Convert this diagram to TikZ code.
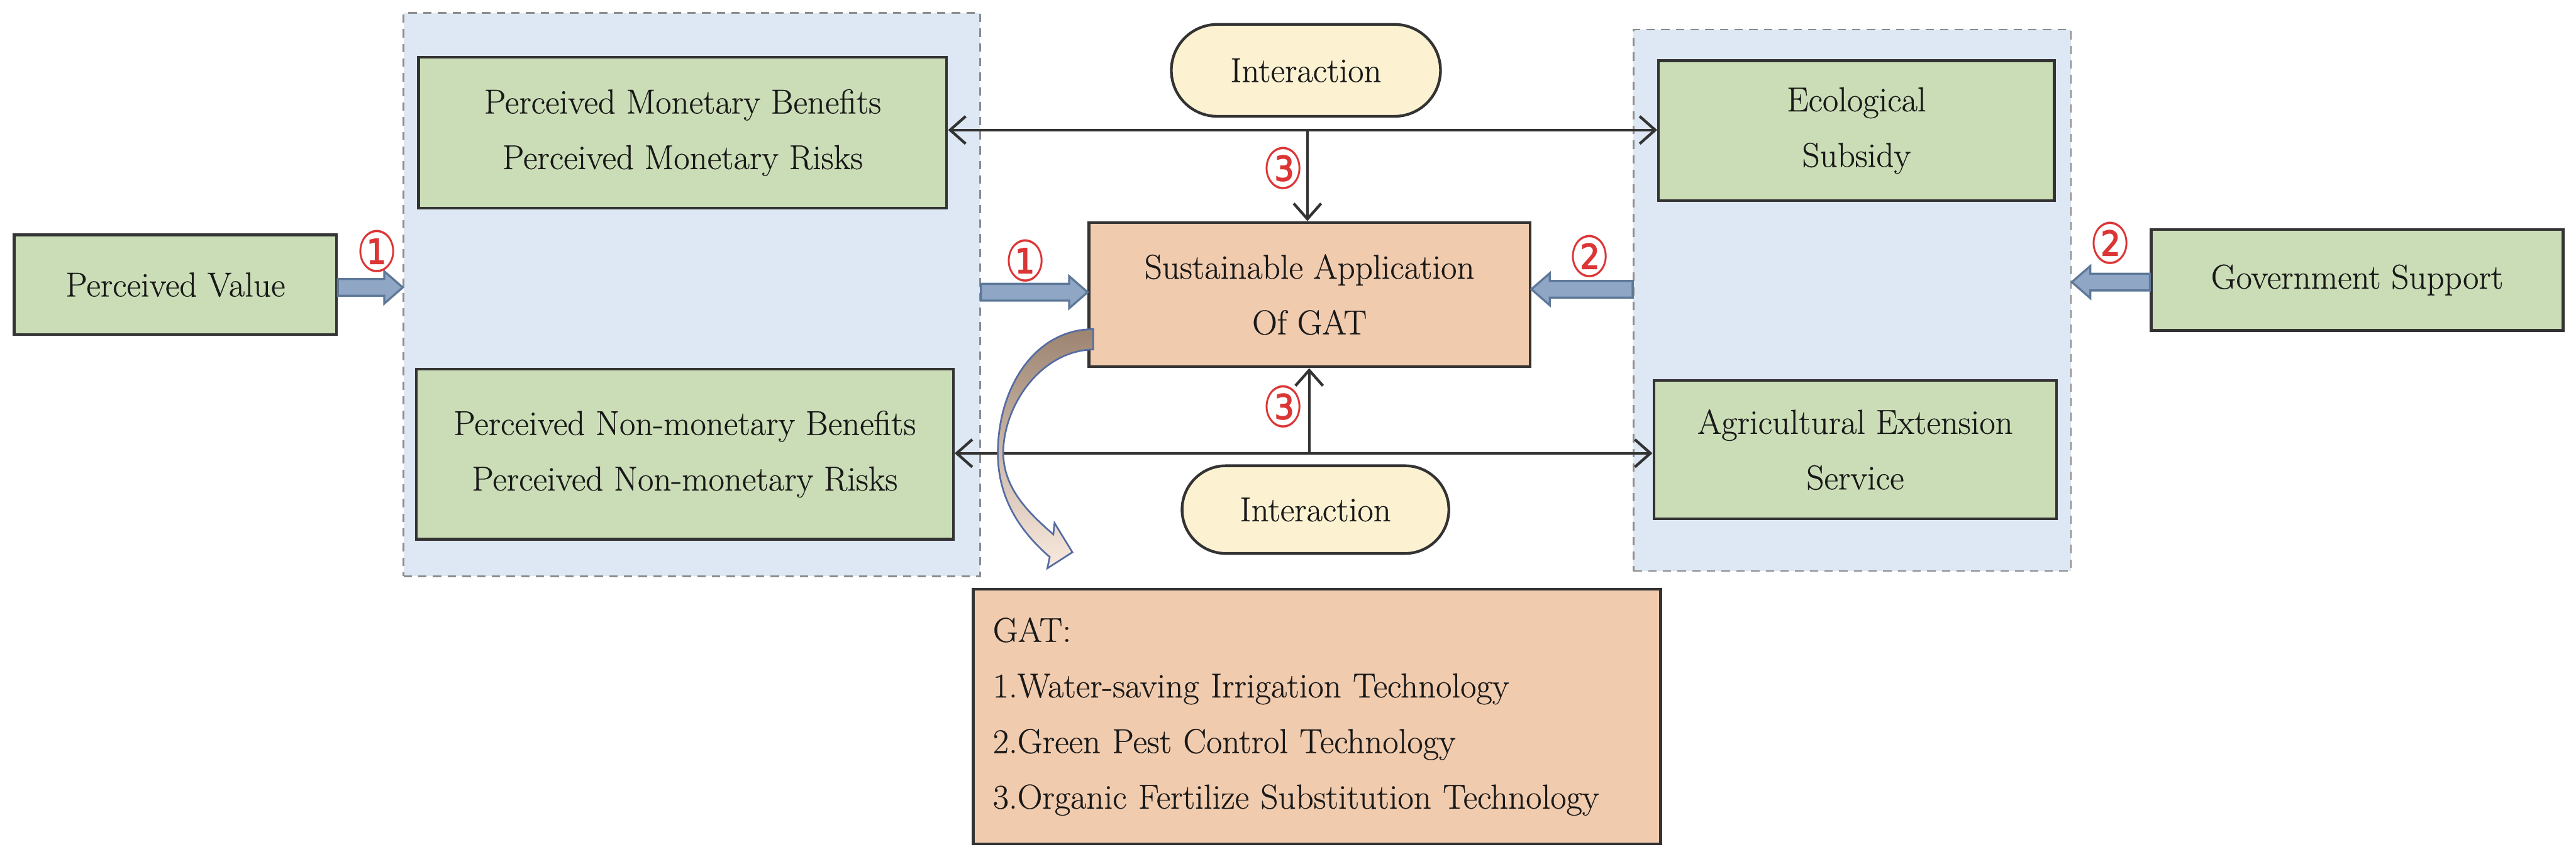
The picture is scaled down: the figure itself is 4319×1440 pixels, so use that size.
\documentclass[tikz,border=0pt]{standalone}
\usepackage{fontspec}
\setmainfont{Latin Modern Roman}[FakeBold=0.45]
\newfontfamily\djv{DejaVu Sans}
\usetikzlibrary{calc,arrows.meta,shapes.misc}
\definecolor{gfill}{HTML}{CBDDB6}
\definecolor{cfill}{HTML}{DEE8F4}
\definecolor{pfill}{HTML}{F1CBAE}
\definecolor{yfill}{HTML}{FCF2D2}
\definecolor{bafill}{HTML}{8FA6C4}
\definecolor{badraw}{HTML}{5E7899}
\definecolor{numred}{HTML}{DC3535}
\definecolor{edge}{HTML}{333333}
\newcommand{\blockarr}[2]{%
  \path (#1) coordinate (ba-s) (#2) coordinate (ba-e);
  \path ($(ba-e)!0.31cm!(ba-s)$) coordinate (ba-n);
  \draw[blockarrow] ($(ba-s)!0.14cm!90:(ba-e)$) -- ($(ba-n)!0.14cm!-90:(ba-s)$)
    -- ($(ba-n)!0.27cm!-90:(ba-s)$) -- (ba-e) -- ($(ba-n)!0.27cm!90:(ba-s)$)
    -- ($(ba-n)!0.14cm!90:(ba-s)$) -- ($(ba-s)!0.14cm!-90:(ba-e)$) -- cycle;}
\newcommand{\cn}[1]{\scalebox{0.82}[1]{#1}}
\begin{document}
\begin{tikzpicture}[x=0.01cm,y=-0.01cm,
  txt/.style={font=\fontsize{16.5}{26.5}\selectfont, align=center, text=black!90},
  gbox/.style={txt, draw=edge, line width=1.3pt, fill=gfill, inner sep=0pt},
  pbox/.style={txt, draw=edge, line width=1.3pt, fill=pfill, inner sep=0pt},
  ibox/.style={txt, rounded rectangle, draw=edge, line width=1.3pt, fill=yfill, inner sep=0pt},
  container/.style={draw=gray!90, dashed, line width=0.8pt, dash pattern=on 4pt off 3pt, fill=cfill, inner sep=0pt},
  blockarrow/.style={fill=bafill, draw=badraw, line width=1pt, line join=miter},
  thin/.style={draw=edge, line width=1.3pt, -{Straight Barb[length=0.26cm,width=0.46cm]}},
  both/.style={draw=edge, line width=1.3pt, {Straight Barb[length=0.26cm,width=0.46cm]}-{Straight Barb[length=0.26cm,width=0.46cm]}},
  cnum/.style={font=\djv\fontsize{27}{27}\selectfont, text=numred, inner sep=0pt}]
\useasboundingbox (0,0) rectangle (4319,1440);
\fill[white] (0,0) rectangle (4319,1440);

% containers
\node[container, minimum width=9.66cm, minimum height=9.44cm] (LC) at (1160,494) {};
\node[container, minimum width=7.33cm, minimum height=9.07cm] (RC) at (3105.5,503.5) {};

% boxes
\node[gbox, minimum width=5.40cm, minimum height=1.67cm] (PV) at (294,477.5) {Perceived Value};
\node[gbox, minimum width=8.85cm, minimum height=2.53cm] (PMB) at (1144.5,222.5) {Perceived Monetary Benefits\\Perceived Monetary Risks};
\node[gbox, minimum width=9.00cm, minimum height=2.85cm] (PNB) at (1148,761.5) {Perceived Non-monetary Benefits\\Perceived Non-monetary Risks};
\node[gbox, minimum width=6.63cm, minimum height=2.34cm] (ECO) at (3112.5,219) {Ecological\\Subsidy};
\node[gbox, minimum width=6.75cm, minimum height=2.32cm] (AGR) at (3110.5,754) {Agricultural Extension\\Service};
\node[gbox, minimum width=6.90cm, minimum height=1.69cm] (GOV) at (3952,469.5) {Government Support};
\node[pbox, minimum width=7.39cm, minimum height=2.42cm] (SA) at (2195.5,494) {Sustainable Application\\Of GAT};
\node[pbox, minimum width=11.52cm, minimum height=4.27cm, text width=10.86cm, align=left] (GAT) at (2208,1201.5)
  {GAT:\\1.Water-saving Irrigation Technology\\2.Green Pest Control Technology\\3.Organic Fertilize Substitution Technology};
\node[ibox, minimum width=4.51cm, minimum height=1.54cm] (INT1) at (2189.5,118) {Interaction};
\node[ibox, minimum width=4.47cm, minimum height=1.47cm] (INT2) at (2205.5,854.5) {Interaction};

% thin connectors
\draw[both] (PMB.east |- 0,218) -- (ECO.west |- 0,218);
\draw[both] (PNB.east |- 0,760) -- (AGR.west |- 0,760);
\coordinate (t3) at (2192,218);
\coordinate (b3) at (2195,760);
\draw[thin] (t3) -- (t3 |- SA.north);
\draw[thin] (b3) -- (b3 |- SA.south);

% block arrows
\blockarr{PV.east |- 0,482}{LC.west |- 0,482}
\blockarr{LC.east |- 0,490}{SA.west |- 0,490}
\blockarr{RC.west |- 0,485}{SA.east |- 0,485}
\blockarr{GOV.west |- 0,473}{RC.east |- 0,473}

% curved arrow
\path[draw=badraw!90!blue, line width=0.8pt, top color=black!35!pfill, bottom color=pfill!40, line join=miter]
  (1833,552) .. controls (1735,552) and (1673,650) .. (1673,760)
  .. controls (1673,840) and (1715,895) .. (1760,934)
  -- (1756,953) -- (1798,926) -- (1768,877) -- (1766,896)
  .. controls (1722,858) and (1683,818) .. (1682,760)
  .. controls (1682,680) and (1745,588) .. (1833,586) -- cycle;

% circled numbers
\node[cnum] (n1a) at (632,421) {\cn{①}};
\node[cnum] (n1b) at (1719,437) {\cn{①}};
\node[cnum] (n2a) at (2665,430) {\cn{②}};
\node[cnum] (n2b) at (3538,408) {\cn{②}};
\node[cnum] (n3a) at (2152,282) {\cn{③}};
\node[cnum] (n3b) at (2152,682) {\cn{③}};
\end{tikzpicture}
\end{document}
